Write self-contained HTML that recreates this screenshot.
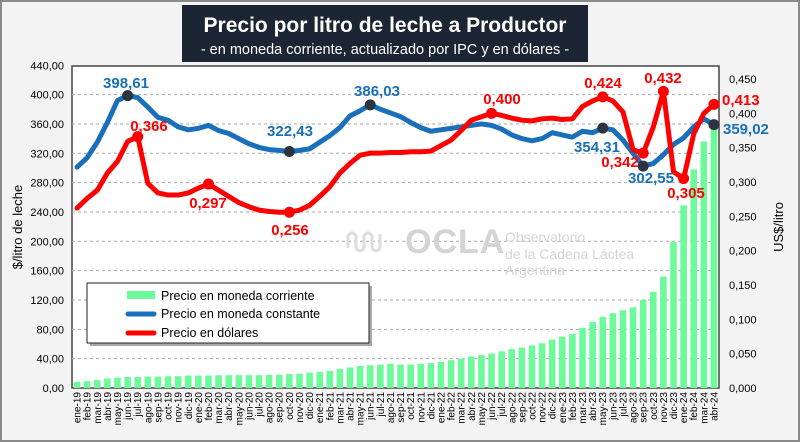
<!DOCTYPE html>
<html><head><meta charset="utf-8"><style>
body{margin:0;background:#f2f2f2;}
svg{display:block;font-family:"Liberation Sans",Calibri,sans-serif;}
</style></head><body>
<svg id="c" width="800" height="442" viewBox="0 0 800 442">
<rect x="1" y="1" width="798" height="440" fill="#f3f3f3" stroke="#8a8a8a" stroke-width="2"/>
<rect x="182" y="5" width="406" height="57" fill="#1c2533"/>
<text x="385" y="32" text-anchor="middle" fill="#fff" font-size="21" font-weight="bold">Precio por litro de leche a Productor</text>
<text x="385" y="54" text-anchor="middle" fill="#fff" font-size="14.5">- en moneda corriente, actualizado por IPC y en dólares -</text>
<rect x="72" y="66" width="647" height="322" fill="#fff" stroke="#444" stroke-width="1.5"/>
<g id="grid"></g>
<g fill="#d4d4d4">
<text x="405" y="253" font-size="34" font-weight="bold" letter-spacing="1">OCLA</text>
<text x="505" y="242" font-size="14">Observatorio</text>
<text x="505" y="259" font-size="14">de la Cadena Láctea</text>
<text x="505" y="275" font-size="14">Argentina</text>
<path d="M348 248 v-12 q4 -6 8 0 v12 q4 6 8 0 v-12 q4 -6 8 0 v12 q4 6 8 0 v-14" fill="none" stroke="#ddd" stroke-width="3"/>
</g>
<g id="bars"></g>
<g id="lines"></g>
<g id="axes"></g>
<text transform="translate(22,227) rotate(-90)" text-anchor="middle" font-size="13" fill="#000">$/litro de leche</text>
<text transform="translate(783,227) rotate(-90)" text-anchor="middle" font-size="13" fill="#000">US$/litro</text>
<g>
<rect x="90" y="286" width="282" height="60" fill="#555" opacity="0.5"/>
<rect x="87" y="283" width="282" height="60" fill="#fff" stroke="#222" stroke-width="1"/>
<rect x="127" y="291" width="28" height="8" fill="#6dfa9a"/>
<text x="161" y="300" font-size="12.5">Precio en moneda corriente</text>
<line x1="128" y1="314" x2="154" y2="314" stroke="#1a6fba" stroke-width="5" stroke-linecap="round"/>
<text x="161" y="318" font-size="12.5">Precio en moneda constante</text>
<line x1="128" y1="333" x2="154" y2="333" stroke="#f00" stroke-width="5" stroke-linecap="round"/>
<text x="161" y="337" font-size="12.5">Precio en dólares</text>
</g>
<g id="labels"></g>
</svg>
<script>
const months=["ene","feb","mar","abr","may","jun","jul","ago","sep","oct","nov","dic"];
const categories=[];
for(let y=19;y<=24;y++)for(let m=0;m<12;m++){if(y===24&&m>3)break;categories.push(months[m]+"-"+y);}
const corriente=[8.5,9.4,10.8,13,14,15,15,15.5,15.5,16,16,17,17,17,17.4,17.5,17.5,17.5,17.5,18,18,19,19.5,21,22,23.5,26,28,30,31,32,33,32,32,33,34,35.5,38,40,43,45,47,50,53,55,58,61,66,70,74,82,90,97,102,106,110,120,131,152,199,249,298,336,357];
const constante=[301,314,335,362,392,398.61,396,383,369,365,356,352,354,358,351,347,340,333,328,325,324,322.43,324,326,335,344,355,371,378,386.03,380,375,370,362,355,350,352,354,356,358,360,358,353,345,340,337,340,348,345,342,350,348,354.31,352,338,320,302.55,306,318,332,341,356,367,359.02];
const dolares=[0.262,0.276,0.288,0.313,0.330,0.359,0.366,0.298,0.284,0.281,0.281,0.284,0.291,0.297,0.288,0.279,0.270,0.264,0.259,0.257,0.256,0.256,0.259,0.266,0.279,0.293,0.313,0.327,0.339,0.342,0.342,0.343,0.343,0.344,0.344,0.345,0.353,0.361,0.375,0.390,0.395,0.400,0.397,0.393,0.390,0.389,0.392,0.393,0.391,0.392,0.410,0.418,0.424,0.418,0.402,0.347,0.342,0.380,0.432,0.315,0.305,0.370,0.400,0.413];
const leftTicks=["0,00","40,00","80,00","120,00","160,00","200,00","240,00","280,00","320,00","360,00","400,00","440,00"];
const rightTicks=["0,000","0,050","0,100","0,150","0,200","0,250","0,300","0,350","0,400","0,450"];
const blueMarks=[5,21,29,52,56,63];
const redMarks=[6,13,21,41,52,56,58,60,63];
const NS="http://www.w3.org/2000/svg";
const X0=72,X1=719,Y0=388,BW=(X1-X0)/categories.length;
const xS=i=>X0+BW*(i+0.5);
const yL=v=>Y0-v*0.7335;
const yR=v=>Y0-v*686.7;
function el(t,a,p){const e=document.createElementNS(NS,t);for(const k in a)e.setAttribute(k,a[k]);p.appendChild(e);return e;}
const grid=document.getElementById('grid'),axes=document.getElementById('axes');
leftTicks.forEach((t,i)=>{const y=yL(i*40);
 if(i>0&&i<11){const g=el('line',{x1:X0,x2:X1,y1:y,y2:y,stroke:'#aaa','stroke-dasharray':'3,3','stroke-width':1},grid);
 
 }
 const tx=el('text',{x:64,y:y+4,'text-anchor':'end','font-size':11},axes);tx.textContent=t;
 
 });
rightTicks.forEach((t,i)=>{const y=yR(i*0.05);
 const tx=el('text',{x:729,y:y+4,'font-size':11},axes);tx.textContent=t;
 
 });
categories.forEach((c,i)=>{const x=xS(i);
 const tx=el('text',{transform:`translate(${x+3.5},392) rotate(-90)`,'text-anchor':'end','font-size':10},axes);tx.textContent=c;
 
 });
const bars=document.getElementById('bars');
corriente.forEach((v,i)=>{const y=yL(v);
 const r=el('rect',{x:xS(i)-3.3,y:y,width:6.6,height:Y0-y,fill:'#6dfa9a'},bars);
 
 });
const lines=document.getElementById('lines');
const bl=el('polyline',{points:constante.map((v,i)=>xS(i)+','+yL(v)).join(' '),fill:'none',stroke:'#1a6fba','stroke-width':5,'stroke-linejoin':'round','stroke-linecap':'round'},lines);


const rl=el('polyline',{points:dolares.map((v,i)=>xS(i)+','+yR(v)).join(' '),fill:'none',stroke:'#f00','stroke-width':5,'stroke-linejoin':'round','stroke-linecap':'round'},lines);


redMarks.forEach(i=>{const c=el('circle',{cx:xS(i),cy:yR(dolares[i]),r:5.5,fill:'#f00'},lines);
 
 });
blueMarks.forEach(i=>{const c=el('circle',{cx:xS(i),cy:yL(constante[i]),r:5.5,fill:'#2b3440'},lines);
 
 });
const labels=document.getElementById('labels');
const fmt=(v,d)=>v.toFixed(d).replace('.',',');
const lab=[["b",5,126,88,"middle"],["r",6,149,131,"middle"],["r",13,208,208,"middle"],["b",21,290,136,"middle"],["r",21,290,235,"middle"],["b",29,377,96,"middle"],["r",41,502,104,"middle"],["r",52,603,88,"middle"],["r",58,663,83,"middle"],["r",63,722,105,"start"],["b",63,723,134,"start"],["b",52,597,152,"middle"],["r",56,620,167,"middle"],["b",56,651,183,"middle"],["r",60,686,198,"middle"]];
lab.forEach(([s,i,x,y,a])=>{const t=el('text',{x:x,y:y,'text-anchor':a,'font-size':15,'font-weight':'bold',fill:s==='b'?'#1a6fba':'#f00'},labels);
 t.textContent=s==='b'?fmt(constante[i],2):fmt(dolares[i],3);
 
 });
</script>
</body></html>
